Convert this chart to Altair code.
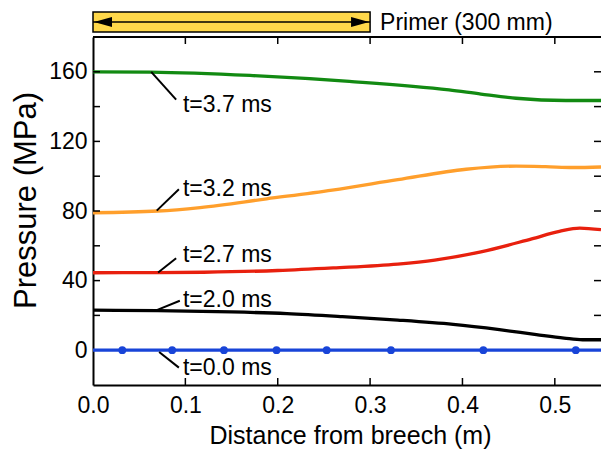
import altair as alt
import pandas as pd

# ---------------- data ----------------
series_names = ["t=0.0 ms", "t=2.0 ms", "t=2.7 ms", "t=3.2 ms", "t=3.7 ms"]
series_colors = ["#1844D8", "#000000", "#E8200E", "#FF9F2C", "#128A12"]

t00_x = [0.0, 0.55]
t00_y = [0.0, 0.0]
t00_marker_x = [0.0317, 0.0857, 0.1418, 0.1987, 0.253, 0.3226, 0.4226, 0.5227]
t00_marker_y = [0, 0, 0, 0, 0, 0, 0, 0]

t20_x = [0.0, 0.07, 0.15, 0.21, 0.27, 0.33, 0.39, 0.44, 0.48, 0.51, 0.53, 0.55]
t20_y = [23.0, 22.7, 22.0, 21.0, 19.3, 17.3, 14.8, 11.8, 9.0, 7.0, 6.0, 6.0]

t27_x = [0.0, 0.07, 0.12, 0.2, 0.26, 0.33, 0.37, 0.42, 0.475, 0.505, 0.527, 0.55]
t27_y = [44.5, 44.6, 44.8, 45.8, 47.3, 49.5, 51.8, 56.5, 64.0, 68.3, 70.2, 69.3]

t32_x = [0.0, 0.07, 0.116, 0.188, 0.259, 0.33, 0.404, 0.458, 0.49, 0.52, 0.55]
t32_y = [79.0, 80.0, 82.0, 87.0, 92.0, 98.0, 104.0, 105.8, 105.5, 105.0, 105.3]

t37_x = [0.0, 0.062, 0.17, 0.2775, 0.3855, 0.42, 0.458, 0.512, 0.55]
t37_y = [160.0, 159.8, 157.9, 154.5, 149.6, 147.2, 144.8, 143.5, 143.5]

# curve labels and their leader lines (data coordinates)
label_text = ["t=3.7 ms", "t=3.2 ms", "t=2.7 ms", "t=2.0 ms", "t=0.0 ms"]
label_x = [0.0974, 0.0974, 0.0974, 0.0974, 0.0974]
label_y = [141.0, 92.5, 54.7, 28.8, -10.0]
leader_x1 = [0.063, 0.069, 0.0705, 0.067, 0.0716]
leader_y1 = [160.0, 80.2, 44.7, 22.6, -1.0]
leader_x2 = [0.090, 0.093, 0.090, 0.094, 0.093]
leader_y2 = [144.0, 92.5, 52.8, 28.4, -10.0]

primer_start_m = [0.0]
primer_end_m = [0.3]
primer_label = ["Primer (300 mm)"]

x_ticks = [0.0, 0.1, 0.2, 0.3, 0.4, 0.5]
x_inner_ticks = [0.1, 0.2, 0.3, 0.4, 0.5]
y_labels = [0, 40, 80, 120, 160]
y_inner_ticks = [20, 40, 60, 80, 100, 120, 140, 160]

# ---------------- build tables ----------------
rows = []
for name, xs, ys in zip(series_names,
                        [t00_x, t20_x, t27_x, t32_x, t37_x],
                        [t00_y, t20_y, t27_y, t32_y, t37_y]):
    for i, (a, b) in enumerate(zip(xs, ys)):
        rows.append({"series": name, "x": a, "p": b, "order": i})
curves = pd.DataFrame(rows)
markers = pd.DataFrame({"x": t00_marker_x, "p": t00_marker_y})
labels = pd.DataFrame({"text": label_text, "x": label_x, "p": label_y})
leaders = pd.DataFrame({"x1": leader_x1, "y1": leader_y1, "x2": leader_x2, "y2": leader_y2})
primer = pd.DataFrame({"x0": primer_start_m, "x1": primer_end_m, "label": primer_label})
xt = pd.DataFrame({"x": x_inner_ticks})
yt = pd.DataFrame({"p": y_inner_ticks})

W, H = 508, 348
FONT = "Liberation Sans"
TICK = 7
FS = 23

xscale = alt.Scale(domain=[0, 0.55], nice=False, zero=False)
yscale = alt.Scale(domain=[-20, 180], nice=False, zero=False)

xaxis = alt.Axis(values=x_ticks, format=".1f", labelFontSize=FS, labelFont=FONT,
                 labelColor="black", tickSize=0, labelPadding=9, labelFlush=False,
                 labelOverlap=False, labelBound=False, grid=False,
                 domainColor="black", domainWidth=2,
                 title="Distance from breech (m)", titleFont=FONT, titleFontSize=25,
                 titleFontWeight="normal", titleColor="black", titleX=257, titleY=58,
                 titleBaseline="alphabetic", titleAlign="center")
yaxis = alt.Axis(values=y_labels, labelFontSize=FS, labelFont=FONT, labelColor="black",
                 tickSize=0, labelPadding=6, labelFlush=False, labelOverlap=False,
                 labelBound=False, grid=False, domainColor="black", domainWidth=2,
                 title="Pressure (MPa)", titleFont=FONT, titleFontSize=31,
                 titleFontWeight="normal", titleColor="black", titleX=-58, titleY=163,
                 titleBaseline="alphabetic", titleAlign="center", titleAngle=-90)

lines = alt.Chart(curves).mark_line(strokeWidth=3.3, interpolate="monotone").encode(
    x=alt.X("x:Q", scale=xscale, axis=xaxis),
    y=alt.Y("p:Q", scale=yscale, axis=yaxis),
    color=alt.Color("series:N", scale=alt.Scale(domain=series_names, range=series_colors),
                    legend=None),
    order=alt.Order("order:Q"),
)

dots = alt.Chart(markers).mark_circle(size=60, color=series_colors[0], opacity=1).encode(
    x="x:Q", y="p:Q")

leader_rules = alt.Chart(leaders).mark_rule(color="black", strokeWidth=2).encode(
    x="x1:Q", y="y1:Q", x2="x2:Q", y2="y2:Q")

label_text_marks = alt.Chart(labels).mark_text(
    align="left", baseline="middle", fontSize=FS, font=FONT, color="black").encode(
    x="x:Q", y="p:Q", text="text:N")

# inner ticks (mirrored on all four sides)
yt_left = alt.Chart(yt).mark_rule(color="black", strokeWidth=1.5).encode(
    y="p:Q", x=alt.value(0), x2=alt.value(TICK))
yt_right = alt.Chart(yt).mark_rule(color="black", strokeWidth=1.5).encode(
    y="p:Q", x=alt.value(W - TICK), x2=alt.value(W))
xt_bottom = alt.Chart(xt).mark_rule(color="black", strokeWidth=1.5).encode(
    x="x:Q", y=alt.value(H - TICK), y2=alt.value(H))
xt_top = alt.Chart(xt).mark_rule(color="black", strokeWidth=1.5).encode(
    x="x:Q", y=alt.value(0), y2=alt.value(TICK))
top_border = alt.Chart(primer).mark_rule(color="black", strokeWidth=2).encode(
    x=alt.value(0), x2=alt.value(W), y=alt.value(0))

# primer bar above the plot
primer_rect = alt.Chart(primer).mark_rect(fill="#FFD84A", stroke="black", strokeWidth=1.5).encode(
    x="x0:Q", x2="x1:Q", y=alt.value(-25), y2=alt.value(-5))
primer_line = alt.Chart(primer).mark_rule(color="black", strokeWidth=1.5).encode(
    x="x0:Q", x2="x1:Q", y=alt.value(-15))
head_left = alt.Chart(primer).mark_point(
    shape="M0,0 L2,-0.55 L2,0.55 Z", filled=True, size=324, color="black", opacity=1,
    xOffset=1).encode(x="x0:Q", y=alt.value(-15))
head_right = alt.Chart(primer).mark_point(
    shape="M0,0 L-2,-0.55 L-2,0.55 Z", filled=True, size=324, color="black", opacity=1,
    xOffset=-1).encode(x="x1:Q", y=alt.value(-15))
primer_text = alt.Chart(primer).mark_text(
    align="left", baseline="middle", dx=10, fontSize=FS, font=FONT, color="black").encode(
    x="x1:Q", y=alt.value(-14), text="label:N")

chart = alt.layer(
    lines, dots, leader_rules, label_text_marks,
    yt_left, yt_right, xt_bottom, xt_top, top_border,
    primer_rect, primer_line, head_left, head_right, primer_text,
).properties(
    width=W, height=H,
    autosize=alt.AutoSizeParams(type="none"),
    padding={"left": 93, "top": 37, "right": 0, "bottom": 70},
    background="white",
).configure_view(stroke="transparent")

chart.save("out.html", embed_options={"renderer": "svg", "actions": False})
